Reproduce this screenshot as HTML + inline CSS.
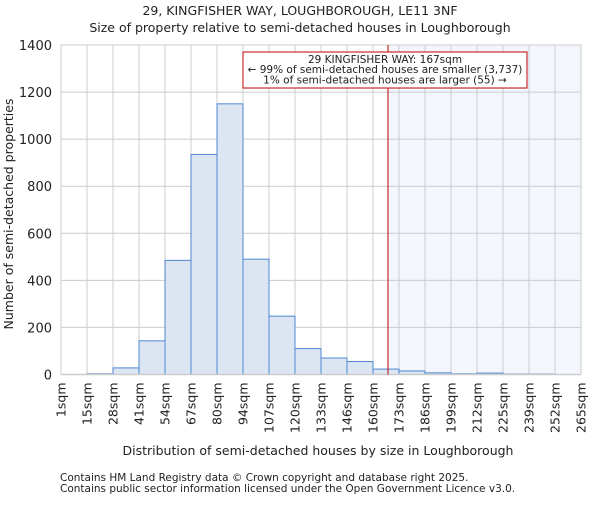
<!DOCTYPE html>
<html><head><meta charset="utf-8"><style>
body{margin:0;background:#fff}
text{font-family:"DejaVu Sans","Liberation Sans",sans-serif;fill:#222}
</style></head><body>
<svg id="chart" width="600" height="500" xmlns="http://www.w3.org/2000/svg">
<text x="300" y="15" text-anchor="middle" font-size="12.5">29, KINGFISHER WAY, LOUGHBOROUGH, LE11 3NF</text>
<text x="300" y="32" text-anchor="middle" font-size="12.5">Size of property relative to semi-detached houses in Loughborough</text>
<g id="grid"></g>
<g id="bars"></g>
<g id="ticks"></g>
<text x="318" y="455" text-anchor="middle" font-size="12.5">Distribution of semi-detached houses by size in Loughborough</text>
<text transform="translate(13,214) rotate(-90)" text-anchor="middle" font-size="12.5" fill="#444">Number of semi-detached properties</text>
<text x="60" y="481" font-size="10.5" fill="#444">Contains HM Land Registry data © Crown copyright and database right 2025.</text>
<text x="60" y="492" font-size="10.5" fill="#444">Contains public sector information licensed under the Open Government Licence v3.0.</text>
</svg>
<script>
const categories=["1sqm","15sqm","28sqm","41sqm","54sqm","67sqm","80sqm","94sqm","107sqm","120sqm","133sqm","146sqm","160sqm","173sqm","186sqm","199sqm","212sqm","225sqm","239sqm","252sqm","265sqm"];
const counts=[0,3,28,143,485,935,1150,490,248,110,70,55,23,15,7,3,6,2,2,0];
const yTicks=[0,200,400,600,800,1000,1200,1400];
const binEdges=[1,14.2,27.4,40.6,53.8,67,80.2,93.4,106.6,119.8,133,146.2,159.4,172.6,185.8,199,212.2,225.4,238.6,251.8,265];
const propertySize=167;
const annotationLines=["29 KINGFISHER WAY: 167sqm","← 99% of semi-detached houses are smaller (3,737)","1% of semi-detached houses are larger (55) →"];
const L=61,R=581,T=45,B=374.5,yMax=1400;
const NS="http://www.w3.org/2000/svg";
const y=v=>B-(v/yMax)*(B-T);
const xi=i=>L+i*(R-L)/counts.length;
const xs=s=>{for(let i=0;i<binEdges.length-1;i++){if(s<=binEdges[i+1])return xi(i)+(s-binEdges[i])/(binEdges[i+1]-binEdges[i])*(xi(i+1)-xi(i));}return R;};
function mk(tag,attrs,parent){const e=document.createElementNS(NS,tag);for(const k in attrs)e.setAttribute(k,attrs[k]);parent.appendChild(e);return e;}
const grid=document.getElementById('grid'),bars=document.getElementById('bars'),ticks=document.getElementById('ticks');
const px=xs(propertySize);
const sh=mk('rect',{x:px,y:T,width:R-px,height:B-T,fill:'#f3f6fd'},grid);


yTicks.forEach(v=>{
 const l=mk('line',{x1:L,x2:R,y1:y(v),y2:y(v),stroke:'#cccccc','stroke-width':1},grid);
 
 
 const t=mk('text',{x:L-9,y:y(v)+5,'text-anchor':'end','font-size':13},ticks);
 t.textContent=v;
 
 
});
categories.forEach((c,i)=>{
 const x=xi(i);
 const l=mk('line',{x1:x,x2:x,y1:T,y2:B,stroke:'#cccccc','stroke-width':1},grid);
 
 
 const t=mk('text',{transform:`translate(${x+4.5},${B+8}) rotate(-90)`,'text-anchor':'end','font-size':12.5},ticks);
 t.textContent=c;
 
 
});
counts.forEach((v,i)=>{
 if(v<=0)return;
 const r=mk('rect',{x:xi(i),y:y(v),width:xi(i+1)-xi(i),height:B-y(v),fill:'#dce6f3',stroke:'#4f86d2','stroke-width':1},bars);
 
 
});
const ax=mk('line',{x1:L,x2:R,y1:B,y2:B,stroke:'#cccccc','stroke-width':1.5},bars);


const ml=mk('line',{x1:px,x2:px,y1:T,y2:B,stroke:'#c00000','stroke-width':1},bars);


const box=mk('rect',{x:243,y:52,width:284,height:36,fill:'#fff',stroke:'#c00000','stroke-width':1},bars);


annotationLines.forEach((s,i)=>{
 const t=mk('text',{x:385,y:63+i*10.2,'text-anchor':'middle','font-size':10.5},bars);
 t.textContent=s;
 
 
});
</script>
</body></html>
